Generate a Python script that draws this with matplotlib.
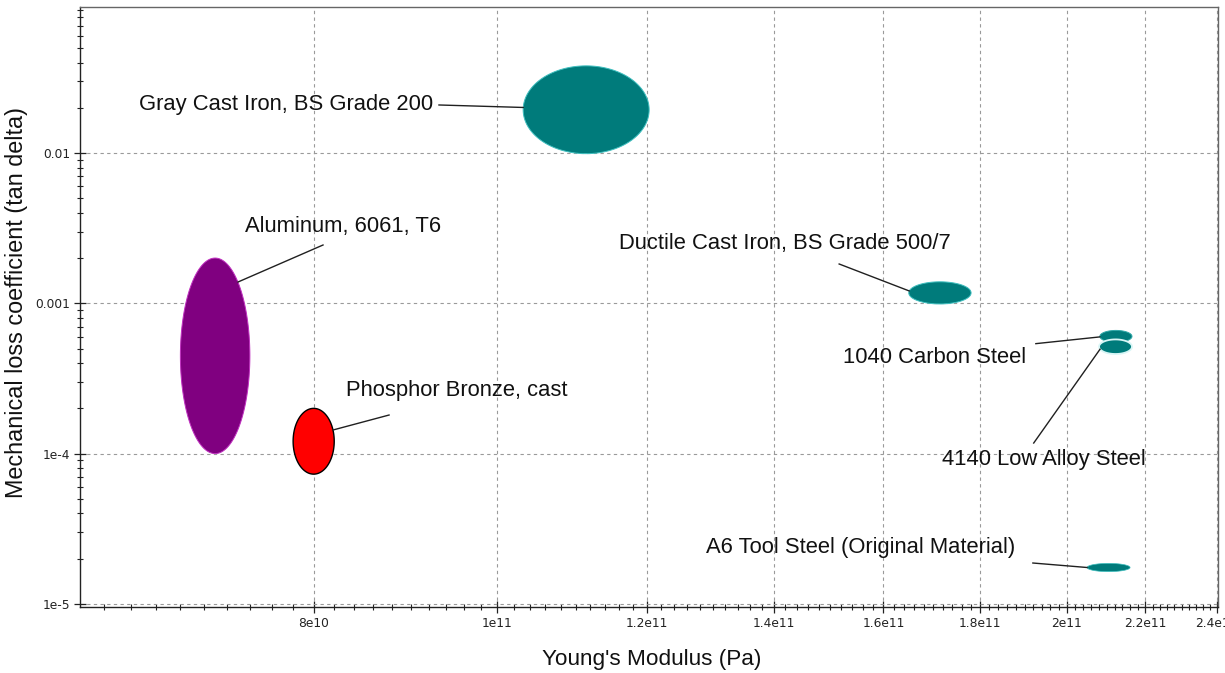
import numpy as np
import matplotlib
matplotlib.use("Agg")
import matplotlib.pyplot as plt
from matplotlib.ticker import FixedLocator, NullFormatter, LogLocator

# Material property bubbles: Young's modulus range (Pa) and loss coefficient range
materials = [
    "Gray Cast Iron, BS Grade 200",
    "Aluminum, 6061, T6",
    "Phosphor Bronze, cast",
    "Ductile Cast Iron, BS Grade 500/7",
    "1040 Carbon Steel",
    "4140 Low Alloy Steel",
    "A6 Tool Steel (Original Material)",
]
modulus_min = [1.032e11, 6.80e10, 7.80e10, 1.650e11, 2.082e11, 2.080e11, 2.050e11]
modulus_max = [1.203e11, 7.40e10, 8.20e10, 1.780e11, 2.165e11, 2.165e11, 2.160e11]
loss_min = [0.0099, 1.0e-4, 7.3e-5, 9.9e-4, 5.5e-4, 4.6e-4, 1.64e-5]
loss_max = [0.038, 2.0e-3, 2.0e-4, 1.39e-3, 6.6e-4, 5.75e-4, 1.86e-5]

fill_colors = ["#007b7b", "#800080", "#ff0000", "#007b7b", "#007b7b", "#007b7b", "#007b7b"]
edge_colors = ["#3fbfbf", "#c030c0", "#000000", "#3fbfbf", "#2fa8a8", "#d8f6f6", "#3fbfbf"]
edge_widths = [0.7, 0.7, 1.0, 0.7, 0.7, 1.3, 0.5]

x_ticks = [8e10, 1e11, 1.2e11, 1.4e11, 1.6e11, 1.8e11, 2e11, 2.2e11, 2.4e11]
x_tick_labels = ["8e10", "1e11", "1.2e11", "1.4e11", "1.6e11", "1.8e11", "2e11", "2.2e11", "2.4e11"]
y_ticks = [1e-5, 1e-4, 1e-3, 1e-2]
y_tick_labels = ["1e-5", "1e-4", "0.001", "0.01"]

# Label placement: text anchor, alignment, leader start, leader angle on bubble
label_text_xy = [(9.247e10, 0.02087), (8.288e10, 3.22e-3), (8.318e10, 2.61e-4),
                 (1.1596e11, 2.50e-3), (1.903e11, 4.35e-4), (1.945e11, 9.07e-5),
                 (1.878e11, 2.39e-5)]
label_ha = ["right", "center", "left", "left", "right", "center", "right"]
leader_start = [(9.315e10, 0.02087), (8.089e10, 2.443e-3), (8.766e10, 1.806e-4),
                (1.516e11, 1.826e-3), (1.926e11, 5.39e-4), (1.921e11, 1.176e-4),
                (1.919e11, 1.871e-5)]
leader_angle = [177, 49, 20, 170, 185, 200, 180]

plt.rcParams["font.family"] = ["Liberation Sans", "DejaVu Sans"]

fig = plt.figure(figsize=(12.25, 6.73), dpi=100)
ax = fig.add_axes([80 / 1225, 1 - 607 / 673, (1217.5 - 80) / 1225, 600 / 673])
ax.set_xscale("log")
ax.set_yscale("log")
ax.set_xlim(6.018e10, 2.4025e11)
ax.set_ylim(9.537e-6, 0.09363)


def bubble(i, t):
    """Point(s) on the bubble outline, an ellipse in log-log space."""
    lx0, lx1 = np.log10(modulus_min[i]), np.log10(modulus_max[i])
    ly0, ly1 = np.log10(loss_min[i]), np.log10(loss_max[i])
    cx, a = (lx0 + lx1) / 2, (lx1 - lx0) / 2
    cy, b = (ly0 + ly1) / 2, (ly1 - ly0) / 2
    return 10 ** (cx + a * np.cos(t)), 10 ** (cy + b * np.sin(t))


theta = np.linspace(0, 2 * np.pi, 300)
for i in range(len(materials)):
    bx, by = bubble(i, theta)
    ax.fill(bx, by, facecolor=fill_colors[i], edgecolor=edge_colors[i],
            linewidth=edge_widths[i], zorder=3)
    ex, ey = bubble(i, np.deg2rad(leader_angle[i]))
    sx, sy = leader_start[i]
    ax.plot([sx, ex], [sy, ey], color="#202020", linewidth=1.0, zorder=4)
    tx, ty = label_text_xy[i]
    ax.text(tx, ty, materials[i], ha=label_ha[i], va="center",
            fontsize=15.8, color="#111111", zorder=5)

ax.xaxis.set_major_locator(FixedLocator(x_ticks))
ax.set_xticklabels(x_tick_labels)
ax.xaxis.set_minor_locator(FixedLocator(np.arange(6.2e10, 2.4e11, 2e9)))
ax.xaxis.set_minor_formatter(NullFormatter())
ax.yaxis.set_major_locator(FixedLocator(y_ticks))
ax.set_yticklabels(y_tick_labels)
ax.yaxis.set_minor_locator(LogLocator(base=10, subs=np.arange(2, 10), numticks=20))
ax.yaxis.set_minor_formatter(NullFormatter())

for lab in ax.get_xticklabels() + ax.get_yticklabels():
    lab.set_fontfamily("DejaVu Sans")
    lab.set_fontsize(8.8)
    lab.set_color("#222222")

ax.tick_params(which="major", direction="inout", length=8, width=0.9, color="#222222", pad=3)
ax.tick_params(which="minor", direction="inout", length=4, width=0.8, color="#222222")

ax.grid(which="major", linestyle=(0, (3, 3)), color="#9a9a9a", linewidth=0.8, zorder=0)
ax.set_axisbelow(True)

for side in ["left", "bottom"]:
    ax.spines[side].set_color("#222222")
    ax.spines[side].set_linewidth(1.0)
for side in ["top", "right"]:
    ax.spines[side].set_color("#666666")
    ax.spines[side].set_linewidth(1.0)

fig.text(652 / 1225, 1 - 659 / 673, "Young's Modulus (Pa)", ha="center", va="center",
         fontsize=16.2, color="#111111")
fig.text(17 / 1225, 1 - 303 / 673, "Mechanical loss coefficient (tan delta)", ha="center",
         va="center", rotation=90, fontsize=16.8, color="#111111")

fig.savefig("out.png", dpi=100)
